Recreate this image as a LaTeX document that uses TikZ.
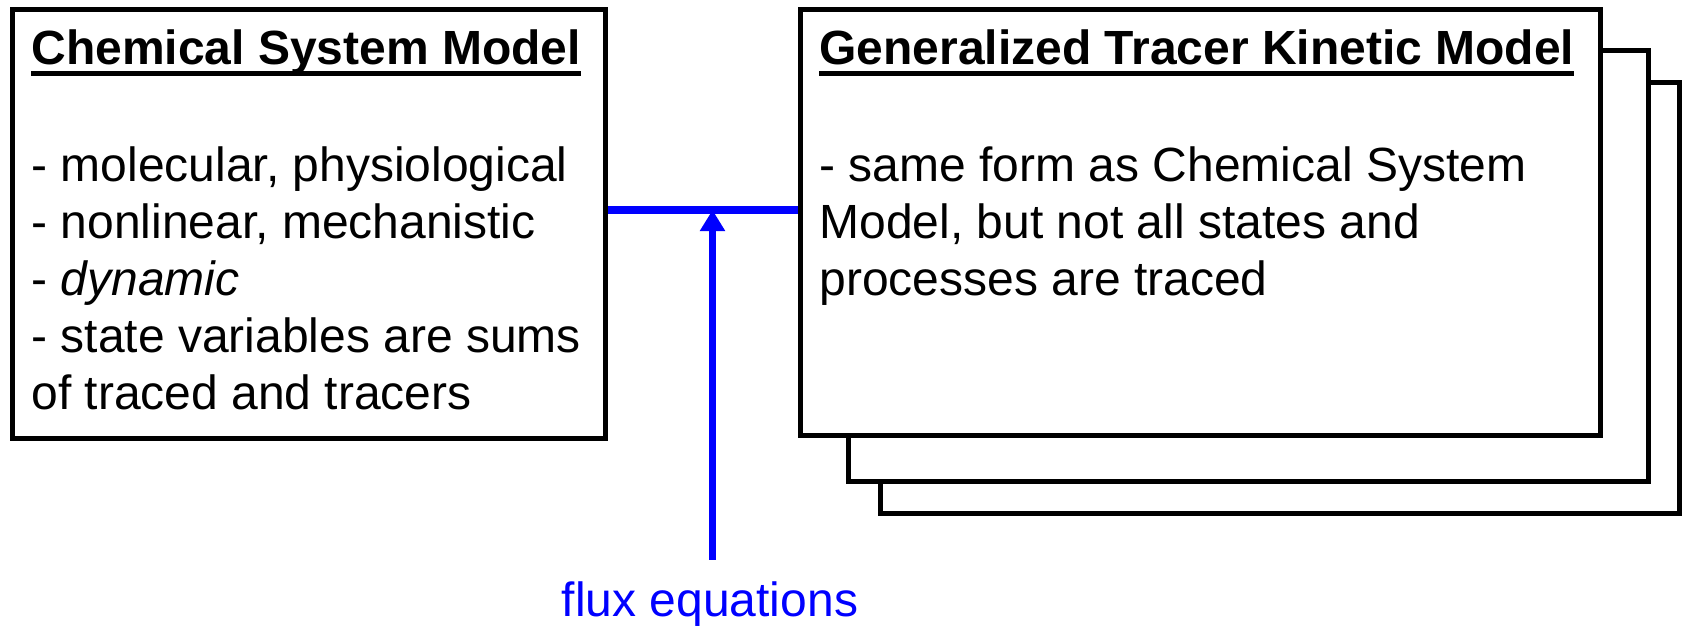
\documentclass[tikz,border=0pt]{standalone}
\usepackage{fontspec}
\setmainfont{Liberation Sans}
\usetikzlibrary{arrows.meta}

\newcommand{\headline}[1]{%
  \setbox0=\hbox{\bfseries #1}%
  \rlap{\rule[-5.9pt]{\wd0}{2.25pt}}\box0}

\begin{document}
\begin{tikzpicture}[
  x = 0.5pt,
  y = -0.5pt,
  model/.style = {
    draw = black,
    fill = white,
    line width = 2.5pt,
    inner sep = 0pt
  },
  txt/.style = {
    anchor = base west,
    inner sep = 0pt,
    align = left,
    font = \fontsize{24pt}{28.5pt}\selectfont
  },
  flux/.style = {
    draw = blue,
    line width = 3.7pt
  }
]
  \useasboundingbox (0, 0) rectangle (1687, 627);

  % stacked copies of the tracer model
  \node[model, minimum width = 399.5pt, minimum height = 215.75pt] (gtkm3) at (1280, 297.75) {};
  \node[model, minimum width = 399.75pt, minimum height = 215.5pt] (gtkm2) at (1248.25, 266) {};
  \node[model, minimum width = 400.25pt, minimum height = 213pt] (gtkm) at (1200.25, 222.5) {};
  \node[model, minimum width = 296.5pt, minimum height = 214.5pt] (csm) at (309, 223.5) {};

  % base of a multi-line node is its last line
  \node[txt] (csmtitle) at (31, 64) {\headline{Chemical System Model}};
  \node[txt] (csmtext) at (31, 409) {- molecular, physiological\\
    - nonlinear, mechanistic\\
    - \textit{dynamic}\\
    - state variables are sums\\
    of traced and tracers};

  \node[txt] (gtkmtitle) at (819, 64) {\headline{Generalized Tracer Kinetic Model}};
  \node[txt] (gtkmtext) at (819, 295) {- same form as Chemical System\\
    Model, but not all states and\\
    processes are traced};

  \coordinate (junction) at (712.5, 210);
  \node[txt, anchor = base, text = blue] (fluxlabel) at (710, 616) {flux equations};

  \draw[flux] (csm.east |- junction) -- (gtkm.west |- junction);
  \draw[flux, -{Triangle[length = 10.5pt, width = 12pt]}, shorten <= 10.5pt]
    (fluxlabel.north -| junction) -- (junction);
\end{tikzpicture}
\end{document}
